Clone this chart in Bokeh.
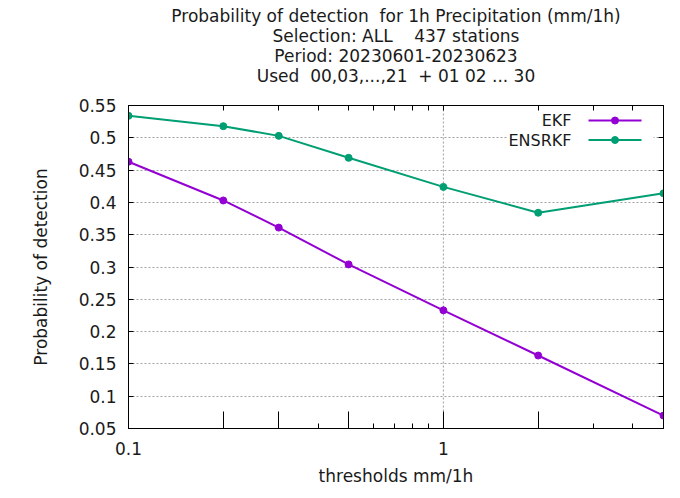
from bokeh.plotting import figure
from bokeh.models import (FixedTicker, LinearAxis, LogAxis, Label, Span, Range1d,
                          BoxAnnotation, LinearScale, Title)
from bokeh.embed import file_html
from bokeh.resources import INLINE

# ---- data ----
thresholds = [0.1, 0.2, 0.3, 0.5, 1, 2, 5]
ekf = [0.463, 0.403, 0.361, 0.304, 0.233, 0.163, 0.070]
ensrkf = [0.534, 0.518, 0.503, 0.469, 0.424, 0.384, 0.414]
series_names = ["EKF", "ENSRKF"]

NB = "\u00a0"
title_lines = [
    "Probability of detection" + NB + " for 1h Precipitation (mm/1h)",
    "Selection: ALL" + NB * 3 + " 437 stations",
    "Period: 20230601-20230623",
    "Used" + NB + " 00,03,...,21" + NB + " + 01 02 ... 30",
]
x_major = [0.1, 0.2, 0.3, 0.5, 1, 2]
x_minor = [0.4, 0.6, 0.7, 0.8, 0.9, 3, 4]
x_labels = {0.1: "0.1", 1: "1"}
y_ticks = [0.05, 0.1, 0.15, 0.2, 0.25, 0.3, 0.35, 0.4, 0.45, 0.5, 0.55]

FONT = "DejaVu Sans"
FS = "17px"
TXT = "#1a1a1a"
PURPLE = "#9400d3"
GREEN = "#009e73"

W, H = 680, 498
BL, BR, BT, BB = 128, 17, 105, 70
FW, FH = W - BL - BR, H - BT - BB

p = figure(width=W, height=H, x_axis_type="log", output_backend="svg",
           toolbar_location=None, x_range=Range1d(0.1, 5), y_range=Range1d(0.05, 0.55),
           min_border_left=BL, min_border_right=BR, min_border_top=BT,
           min_border_bottom=BB, x_axis_location=None, y_axis_location=None)
p.outline_line_color = "black"
p.outline_line_width = 1
p.background_fill_color = "white"
p.border_fill_color = "white"

# pixel coordinate system of the frame (for the key)
p.extra_x_ranges = {"px": Range1d(0, FW)}
p.extra_y_ranges = {"py": Range1d(0, FH)}
p.extra_x_scales = {"px": LinearScale()}
p.extra_y_scales = {"py": LinearScale()}

# grid: horizontal dotted at every y tick, vertical at 1
p.xgrid.visible = False
p.ygrid.ticker = FixedTicker(ticks=y_ticks)
p.ygrid.grid_line_color = "#a0a0a0"
p.ygrid.grid_line_dash = "2 2"
p.ygrid.grid_line_width = 1
p.add_layout(Span(location=1, dimension="height", line_color="#a0a0a0",
                  line_dash="2 2", line_width=1, level="underlay"))

def lab(v):
    return ("%.2f" % v).rstrip("0").rstrip(".")

# axes
xb = LogAxis(ticker=FixedTicker(ticks=x_major, minor_ticks=x_minor),
             axis_label="thresholds mm/1h")
xb.major_label_overrides = {t: x_labels.get(t, "") for t in x_major}
xb.major_tick_in = 17
xb.minor_tick_in = 5
xb.major_label_standoff = 13
xb.axis_label_standoff = 8
p.add_layout(xb, "below")

xt = LogAxis(ticker=FixedTicker(ticks=x_major, minor_ticks=x_minor))
xt.major_label_overrides = {t: "" for t in x_major}
xt.major_tick_in = 5
xt.minor_tick_in = 5
xt.major_label_standoff = 0
p.add_layout(xt, "above")

yl = LinearAxis(ticker=FixedTicker(ticks=y_ticks), axis_label="Probability of detection")
yl.major_label_overrides = {t: lab(t) for t in y_ticks}
yl.major_tick_in = 5
yl.minor_tick_line_color = None
yl.major_label_standoff = 12
yl.axis_label_standoff = 25
p.add_layout(yl, "left")

yr = LinearAxis(ticker=FixedTicker(ticks=y_ticks))
yr.major_label_overrides = {t: "" for t in y_ticks}
yr.major_tick_in = 5
yr.minor_tick_line_color = None
yr.major_label_standoff = 0
p.add_layout(yr, "right")

for ax in (xb, xt, yl, yr):
    ax.axis_line_color = "black"
    ax.major_tick_line_color = "black"
    ax.major_tick_out = 0
    ax.minor_tick_out = 0
    ax.major_label_text_font = FONT
    ax.axis_label_text_font = FONT
    ax.axis_label_text_font_style = "normal"
    ax.major_label_text_color = TXT
    ax.axis_label_text_color = TXT
    ax.major_label_text_font_size = FS
    ax.axis_label_text_font_size = FS

# blank gap between the frame and the title block
p.add_layout(Title(text=NB, align="center", text_font=FONT, text_font_size=FS,
                   text_color=TXT, standoff=-1), "above")

# title lines: the last line is added first so that it sits nearest the frame
title_offsets = [-1, 5, 5, 5]
for line, off in reversed(list(zip(title_lines, title_offsets))):
    p.add_layout(Title(text=line, align="center", offset=off, text_font=FONT,
                       text_font_size=FS, text_font_style="normal", text_color=TXT,
                       standoff=-2), "above")

# series
p.line(thresholds, ekf, line_color=PURPLE, line_width=2)
p.scatter(thresholds, ekf, marker="circle", size=7, fill_color=PURPLE, line_color=PURPLE)
p.line(thresholds, ensrkf, line_color=GREEN, line_width=2)
p.scatter(thresholds, ensrkf, marker="circle", size=7, fill_color=GREEN, line_color=GREEN)

# key (gnuplot style: text on the left, sample on the right)
key_box = BoxAnnotation(left=379, right=525, bottom=278, top=318,
                        left_units="screen", right_units="screen",
                        bottom_units="screen", top_units="screen",
                        fill_color="white", fill_alpha=1, line_color=None,
                        level="underlay")
p.add_layout(key_box)
key_rows = [308, 288.5]
for name, col, ky in zip(series_names, [PURPLE, GREEN], key_rows):
    p.add_layout(Label(x=443, y=ky, x_units="screen", y_units="screen", text=name,
                       text_align="right", text_baseline="middle",
                       text_font=FONT, text_font_size="16px", text_color=TXT))
    p.line([460, 513], [ky, ky], line_color=col, line_width=2,
           x_range_name="px", y_range_name="py")
    p.scatter([486.5], [ky], marker="circle", size=7, fill_color=col, line_color=col,
              x_range_name="px", y_range_name="py")

open("out.html", "w").write(file_html(p, INLINE))
